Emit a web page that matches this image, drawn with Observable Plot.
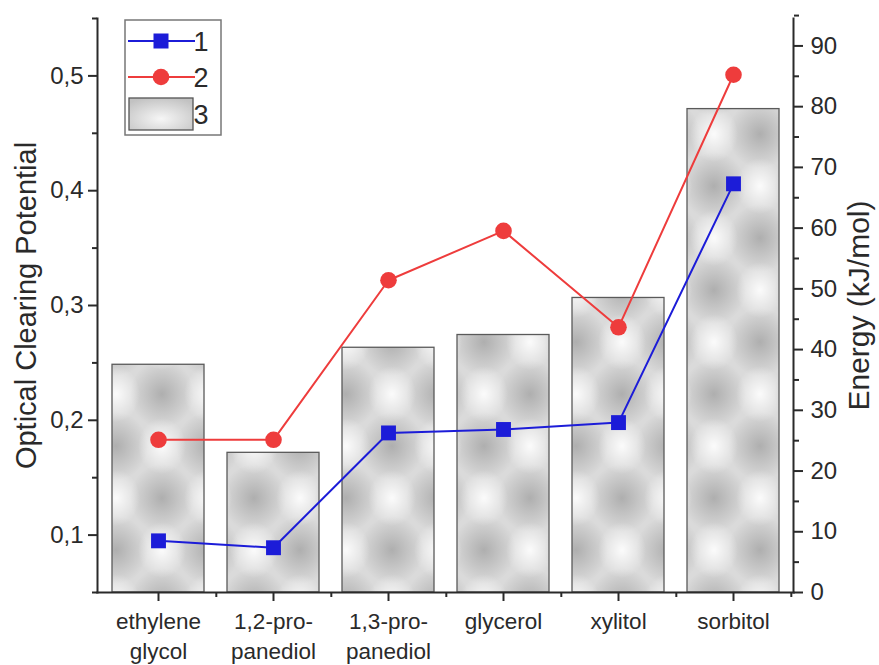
<!DOCTYPE html>
<html>
<head>
<meta charset="utf-8">
<script src="https://cdn.jsdelivr.net/npm/d3@7"></script>
<script src="https://cdn.jsdelivr.net/npm/@observablehq/plot@0.6"></script>
<style>
  html, body { margin: 0; padding: 0; background: #fff; }
  #chart { position: relative; width: 879px; height: 665px; }
  svg { font-family: "Liberation Sans", Arial, sans-serif; }
</style>
</head>
<body>
<div id="chart"></div>
<script>
// ---- data ----
const categories = ["ethylene glycol", "1,2-propanediol", "1,3-propanediol", "glycerol", "xylitol", "sorbitol"];
const categoryLabels = ["ethylene\nglycol", "1,2-pro-\npanediol", "1,3-pro-\npanediol", "glycerol", "xylitol", "sorbitol"];
const series1 = [0.095, 0.089, 0.189, 0.192, 0.198, 0.406];   // blue squares (1)
const series2 = [0.183, 0.183, 0.322, 0.365, 0.281, 0.501];   // red circles (2)
const energy = [37.5, 23.0, 40.3, 42.4, 48.5, 79.6];          // bars (3), kJ/mol
const leftTicks = [0.1, 0.2, 0.3, 0.4, 0.5];
const leftMinorTicks = [0.05, 0.15, 0.25, 0.35, 0.45, 0.55];
const rightTicks = [0, 10, 20, 30, 40, 50, 60, 70, 80, 90];
const rightMinorTicks = [5, 15, 25, 35, 45, 55, 65, 75, 85, 95];
const legendLabels = ["1", "2", "3"];

// energy -> left (OCP) coordinate
const toL = d3.scaleLinear([0, 90], [0.05, 0.5261]);

const data = categories.map((c, i) => ({cat: c, s1: series1[i], s2: series2[i], e: energy[i]}));
const labelOf = new Map(categories.map((c, i) => [c, categoryLabels[i]]));
const comma = d => d3.format(".1f")(d).replace(".", ",");

const W = 879, H = 665, mL = 97, mR = 86, mT = 18, mB = 73;
const xb = d3.scaleBand(categories, [mL, W - mR]).paddingInner(0.2).paddingOuter(0.11);
const step = xb.step();

const blue = "#1c1cd8", red = "#ee3c3c", ink = "#2a2a2a";
const FONT = "Liberation Sans, Arial, sans-serif";

const plot = Plot.plot({
  width: W, height: H,
  marginLeft: mL, marginRight: mR, marginTop: mT, marginBottom: mB,
  x: {domain: categories, paddingInner: 0.2, paddingOuter: 0.11, axis: null},
  y: {domain: [0.05, 0.55], axis: null},
  style: {fontFamily: FONT, color: ink, background: "#fff"},
  marks: [
    Plot.barY(data, {x: "cat", y1: 0.05, y2: d => toL(d.e), fill: "url(#barpat)", stroke: "#5a5a5a", strokeWidth: 1.3}),
    Plot.line(data, {x: "cat", y: "s2", stroke: red, strokeWidth: 2}),
    Plot.line(data, {x: "cat", y: "s1", stroke: blue, strokeWidth: 2}),
    Plot.dot(data, {x: "cat", y: "s2", r: 8.3, fill: red, stroke: null, symbol: "circle"}),
    Plot.dot(data, {x: "cat", y: "s1", r: 8.4, fill: blue, stroke: null, symbol: "square"}),
    // axis lines
    Plot.frame({anchor: "left", stroke: ink, strokeWidth: 2}),
    Plot.frame({anchor: "right", stroke: ink, strokeWidth: 2}),
    Plot.frame({anchor: "bottom", stroke: ink, strokeWidth: 2}),
    // left axis
    Plot.axisY(leftTicks, {anchor: "left", tickSize: 9, tickPadding: 5, strokeWidth: 2, fontSize: 24, tickFormat: comma, label: null, stroke: ink, fill: ink}),
    Plot.axisY(leftMinorTicks, {anchor: "left", tickSize: 5, strokeWidth: 2, text: null, label: null, stroke: ink}),
    // right axis (energy)
    Plot.axisY(rightTicks.map(toL), {anchor: "right", tickSize: 9, tickPadding: 8, strokeWidth: 2, fontSize: 24, tickFormat: d => String(Math.round(toL.invert(d))), label: null, stroke: ink, fill: ink}),
    Plot.axisY(rightMinorTicks.map(toL), {anchor: "right", tickSize: 5, strokeWidth: 2, text: null, label: null, stroke: ink}),
    // bottom axis
    Plot.axisX(categories, {anchor: "bottom", tickSize: 9, tickPadding: 6, strokeWidth: 2, fontSize: 22.5, lineHeight: 1.33, tickFormat: d => labelOf.get(d), label: null, stroke: ink, fill: ink}),
    Plot.axisX(categories, {anchor: "bottom", tickSize: 5, strokeWidth: 2, text: null, label: null, dx: step / 2, stroke: ink}),
    // axis titles
    Plot.text(["Optical Clearing Potential"], {frameAnchor: "left", textAnchor: "middle", rotate: -90, dx: -71, fontSize: 29, fill: ink}),
    Plot.text(["Energy (kJ/mol)"], {frameAnchor: "right", textAnchor: "middle", rotate: -90, dx: 66, fontSize: 30, fill: ink})
  ]
});

document.getElementById("chart").appendChild(plot);

// ---- pattern for bars ----
const svg = d3.select(plot);
const defs = svg.insert("defs", ":first-child");
const gd = defs.append("radialGradient").attr("id", "gdark");
gd.append("stop").attr("offset", "0%").attr("stop-color", "#9c9c9c").attr("stop-opacity", 1);
gd.append("stop").attr("offset", "45%").attr("stop-color", "#9c9c9c").attr("stop-opacity", 0.55);
gd.append("stop").attr("offset", "100%").attr("stop-color", "#9c9c9c").attr("stop-opacity", 0);
const gl = defs.append("radialGradient").attr("id", "glight");
gl.append("stop").attr("offset", "0%").attr("stop-color", "#ffffff").attr("stop-opacity", 1);
gl.append("stop").attr("offset", "100%").attr("stop-color", "#ffffff").attr("stop-opacity", 0);
const PW = 92, PH = 104;
const pat = defs.append("pattern").attr("id", "barpat").attr("patternUnits", "userSpaceOnUse")
  .attr("width", PW).attr("height", PH).attr("x", 24).attr("y", 30);
pat.append("rect").attr("width", PW).attr("height", PH).attr("fill", "#dadada");
const darkPts = [[0,0],[PW,0],[0,PH],[PW,PH],[PW/2,PH/2]];
const lightPts = [[PW/2,0],[PW/2,PH],[0,PH/2],[PW,PH/2]];
darkPts.forEach(([cx, cy]) => pat.append("ellipse").attr("cx", cx).attr("cy", cy).attr("rx", 32).attr("ry", 34).attr("fill", "url(#gdark)").attr("opacity", 0.7));
lightPts.forEach(([cx, cy]) => pat.append("ellipse").attr("cx", cx).attr("cy", cy).attr("rx", 24).attr("ry", 28).attr("fill", "url(#glight)").attr("opacity", 0.9));

const lgr = defs.append("radialGradient").attr("id", "legpat").attr("cx", "50%").attr("cy", "65%").attr("r", "70%");
lgr.append("stop").attr("offset", "0%").attr("stop-color", "#f6f6f6");
lgr.append("stop").attr("offset", "100%").attr("stop-color", "#c2c2c2");

// ---- legend ----
const lg = svg.append("g").attr("font-family", FONT);
lg.append("rect").attr("x", 125).attr("y", 20).attr("width", 96).attr("height", 115)
  .attr("fill", "#fff").attr("stroke", "#777").attr("stroke-width", 1.5);
const rowsY = [41, 77, 114];
legendLabels.forEach((t, i) => {
  const y = rowsY[i];
  if (i === 0) {
    lg.append("line").attr("x1", 128).attr("x2", 195).attr("y1", y).attr("y2", y).attr("stroke", blue).attr("stroke-width", 2);
    lg.append("rect").attr("x", 153.5).attr("y", y - 7.5).attr("width", 15).attr("height", 15).attr("fill", blue);
  } else if (i === 1) {
    lg.append("line").attr("x1", 128).attr("x2", 195).attr("y1", y).attr("y2", y).attr("stroke", red).attr("stroke-width", 2);
    lg.append("circle").attr("cx", 161).attr("cy", y).attr("r", 8.3).attr("fill", red);
  } else {
    lg.append("rect").attr("x", 129).attr("y", 98).attr("width", 64).attr("height", 32)
      .attr("fill", "url(#legpat)").attr("stroke", "#555").attr("stroke-width", 1.3);
  }
  lg.append("text").attr("x", 201).attr("y", y).attr("dy", "0.36em").attr("font-size", 27).attr("fill", ink).text(t);
});
</script>
</body>
</html>
